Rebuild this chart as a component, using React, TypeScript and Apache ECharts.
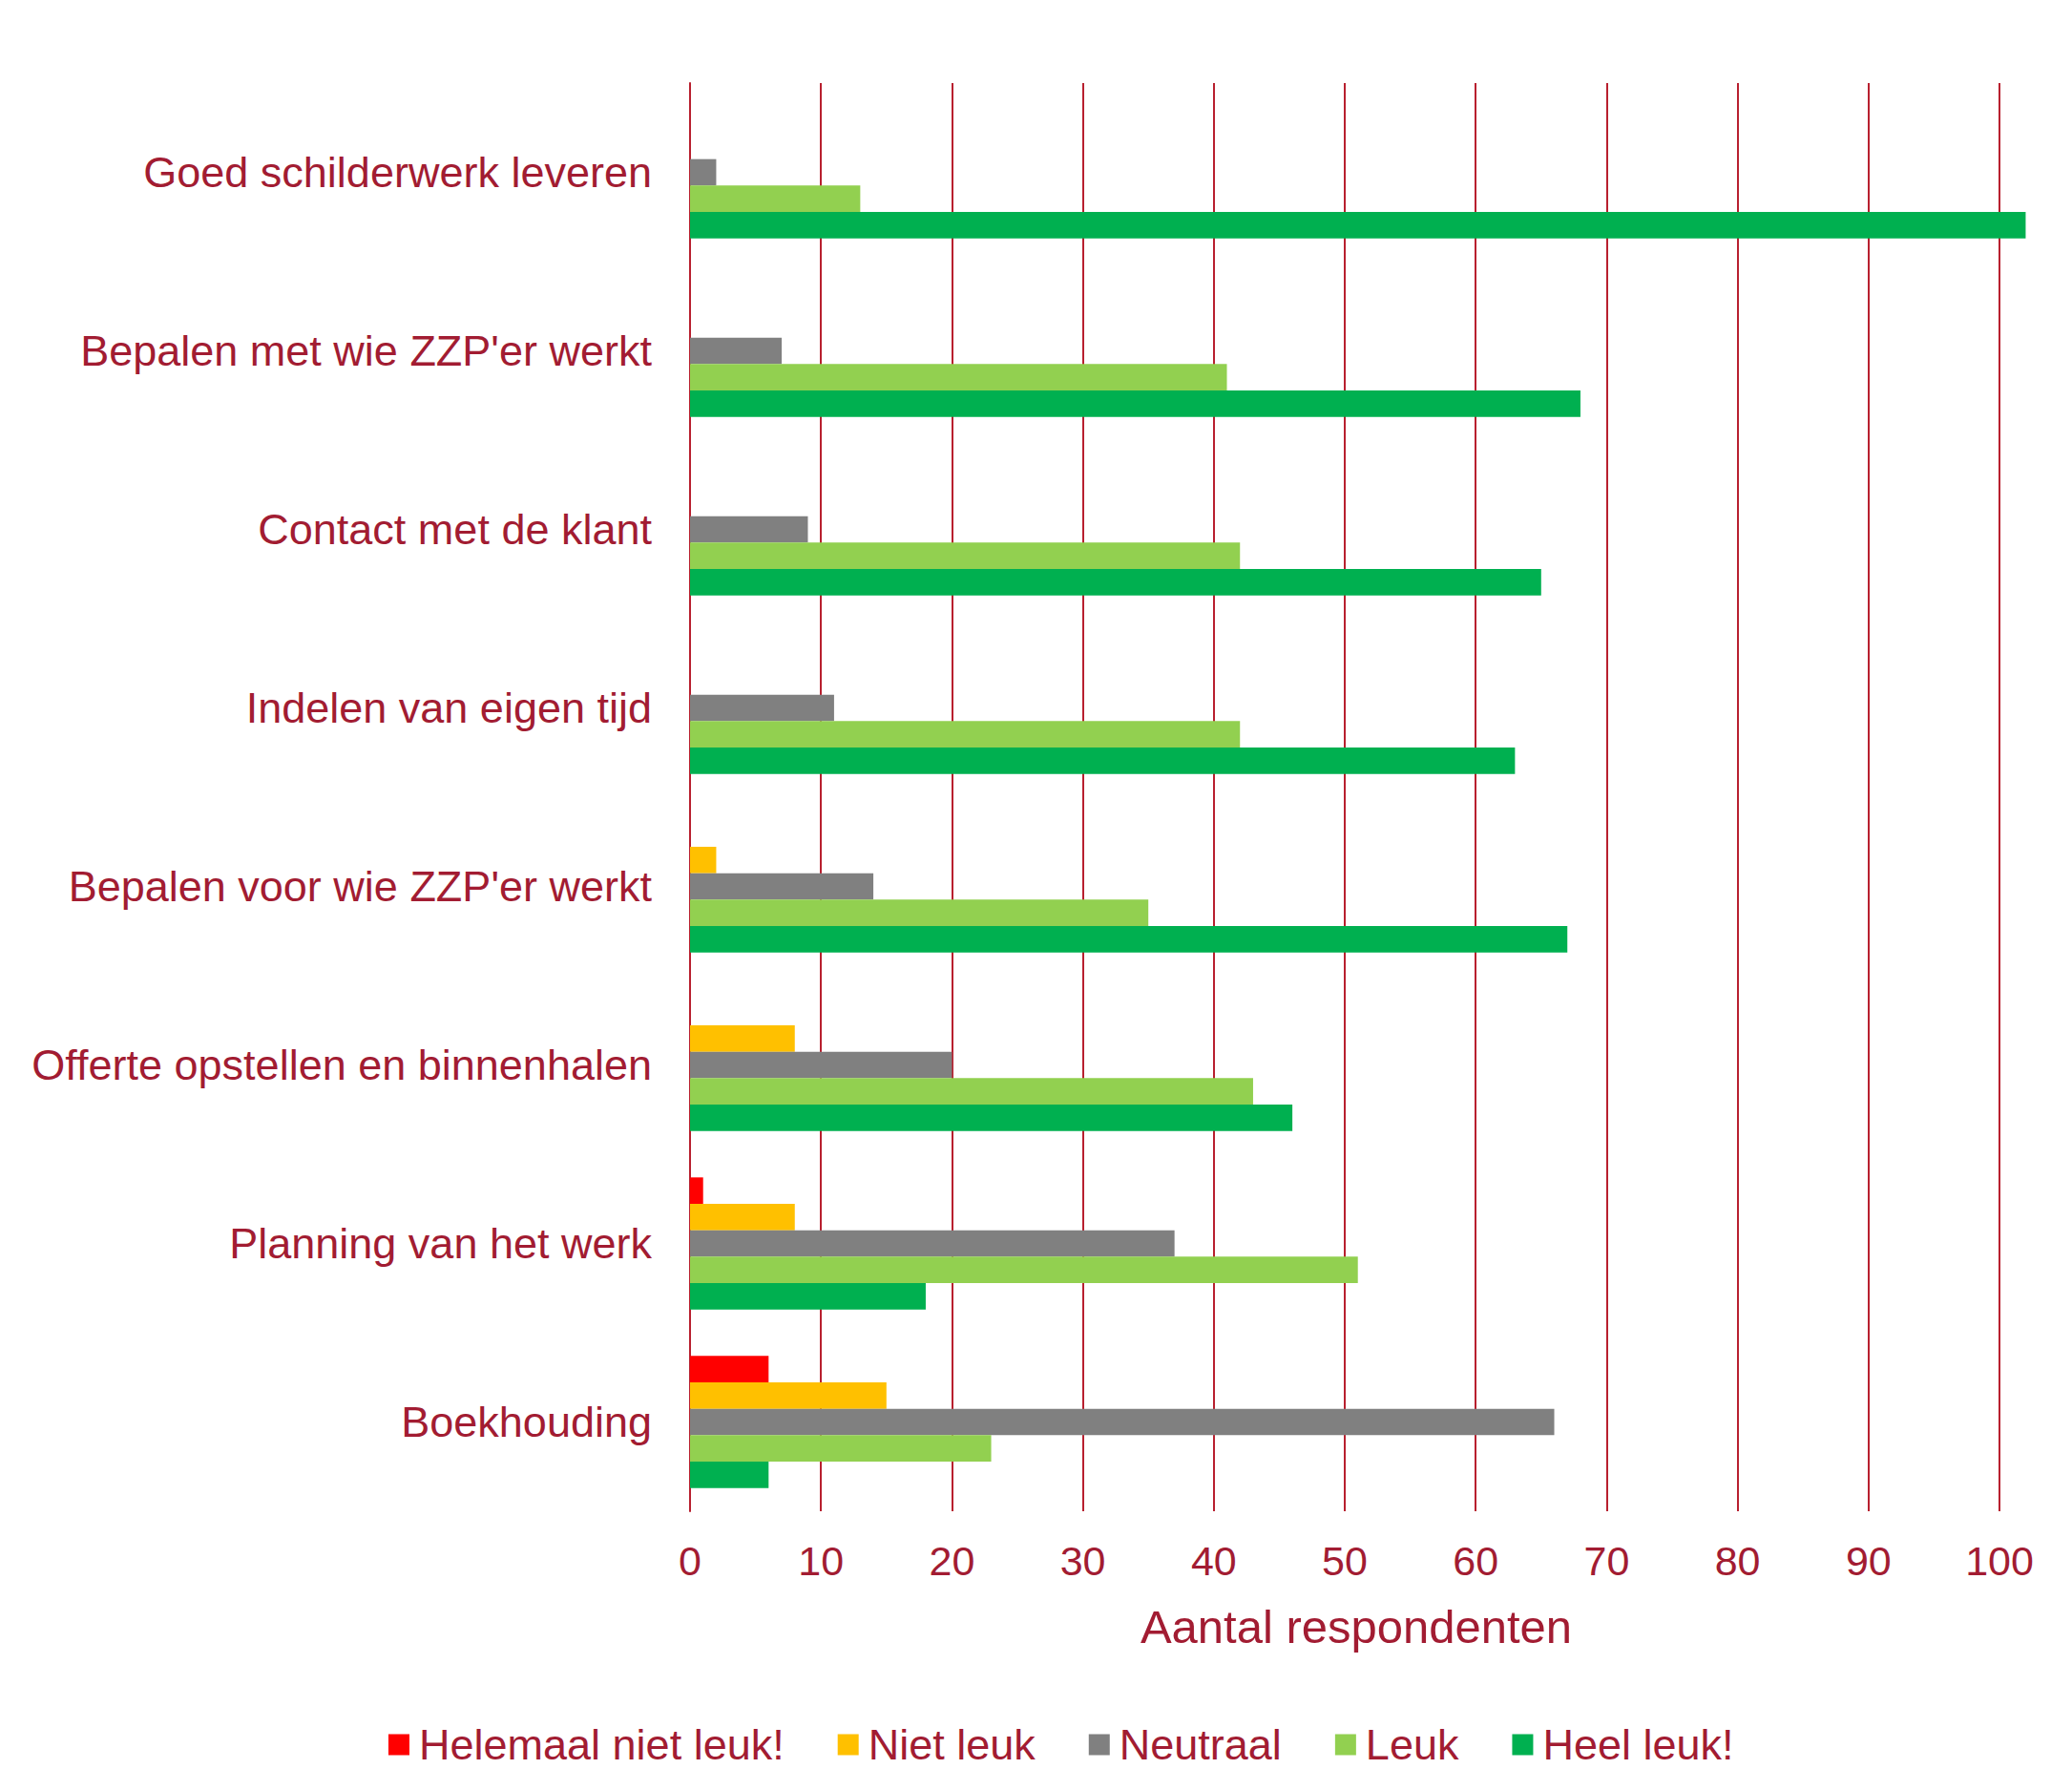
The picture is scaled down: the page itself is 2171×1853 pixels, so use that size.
import React, { useEffect, useRef } from "react";
import * as echarts from "echarts";

const categories = [
  "Goed schilderwerk leveren",
  "Bepalen met wie ZZP'er werkt",
  "Contact met de klant",
  "Indelen van eigen tijd",
  "Bepalen voor wie ZZP'er werkt",
  "Offerte opstellen en binnenhalen",
  "Planning van het werk",
  "Boekhouding",
];

const seriesNames = ["Helemaal niet leuk!", "Niet leuk", "Neutraal", "Leuk", "Heel leuk!"];
const seriesColors = ["#FF0000", "#FFC000", "#808080", "#92D050", "#00B050"];

const helemaalNietLeuk = [0, 0, 0, 0, 0, 0, 1, 6];
const nietLeuk = [0, 0, 0, 0, 2, 8, 8, 15];
const neutraal = [2, 7, 9, 11, 14, 20, 37, 66];
const leuk = [13, 41, 42, 42, 35, 43, 51, 23];
const heelLeuk = [102, 68, 65, 63, 67, 46, 18, 6];

const seriesValues = [helemaalNietLeuk, nietLeuk, neutraal, leuk, heelLeuk];

const xTicks = { min: 0, max: 100, interval: 10 };

const TEXT = "#A21C32";
const GRID = "#B8202F";
const FONT = "'Liberation Sans', Arial, sans-serif";

export default function App() {
  const ref = useRef<HTMLDivElement>(null);
  useEffect(() => {
    if (!ref.current) return;
    const chart = echarts.init(ref.current, undefined, { renderer: "svg" });
    chart.setOption({
      animation: false,
      backgroundColor: "#FFFFFF",
      textStyle: { fontFamily: FONT },
      grid: { left: 723, right: 76, top: 87, bottom: 270, containLabel: false },
      legend: {
        left: 402,
        top: 1800,
        itemWidth: 22,
        itemHeight: 22,
        itemGap: 56,
        icon: "rect",
        textStyle: { color: TEXT, fontSize: 45, fontFamily: FONT, padding: [0, 0, 0, 5] },
        data: seriesNames,
      },
      xAxis: {
        type: "value",
        min: xTicks.min,
        max: xTicks.max,
        interval: xTicks.interval,
        axisLine: { show: false },
        axisTick: { show: false },
        splitLine: { show: true, lineStyle: { color: GRID, width: 2 } },
        axisLabel: { color: TEXT, fontSize: 43, fontFamily: FONT, margin: 30 },
        name: "Aantal respondenten",
        nameLocation: "middle",
        nameGap: 96,
        nameTextStyle: { color: TEXT, fontSize: 49, fontFamily: FONT, padding: [0, 0, 0, 24] },
      },
      yAxis: {
        type: "category",
        inverse: true,
        data: categories,
        axisLine: { show: true, lineStyle: { color: GRID, width: 2 } },
        axisTick: { show: false },
        splitLine: { show: false },
        axisLabel: { color: TEXT, fontSize: 45, fontFamily: FONT, margin: 40 },
      },
      series: seriesNames.map((name, i) => ({
        name,
        type: "bar",
        data: seriesValues[i],
        barGap: "0%",
        barCategoryGap: "26%",
        clip: false,
        itemStyle: { color: seriesColors[i] },
        emphasis: { disabled: true },
      })),
    });
    return () => chart.dispose();
  }, []);
  return (
    <div
      ref={ref}
      style={{ position: "fixed", left: 0, top: 0, width: 2171, height: 1853 }}
    />
  );
}
